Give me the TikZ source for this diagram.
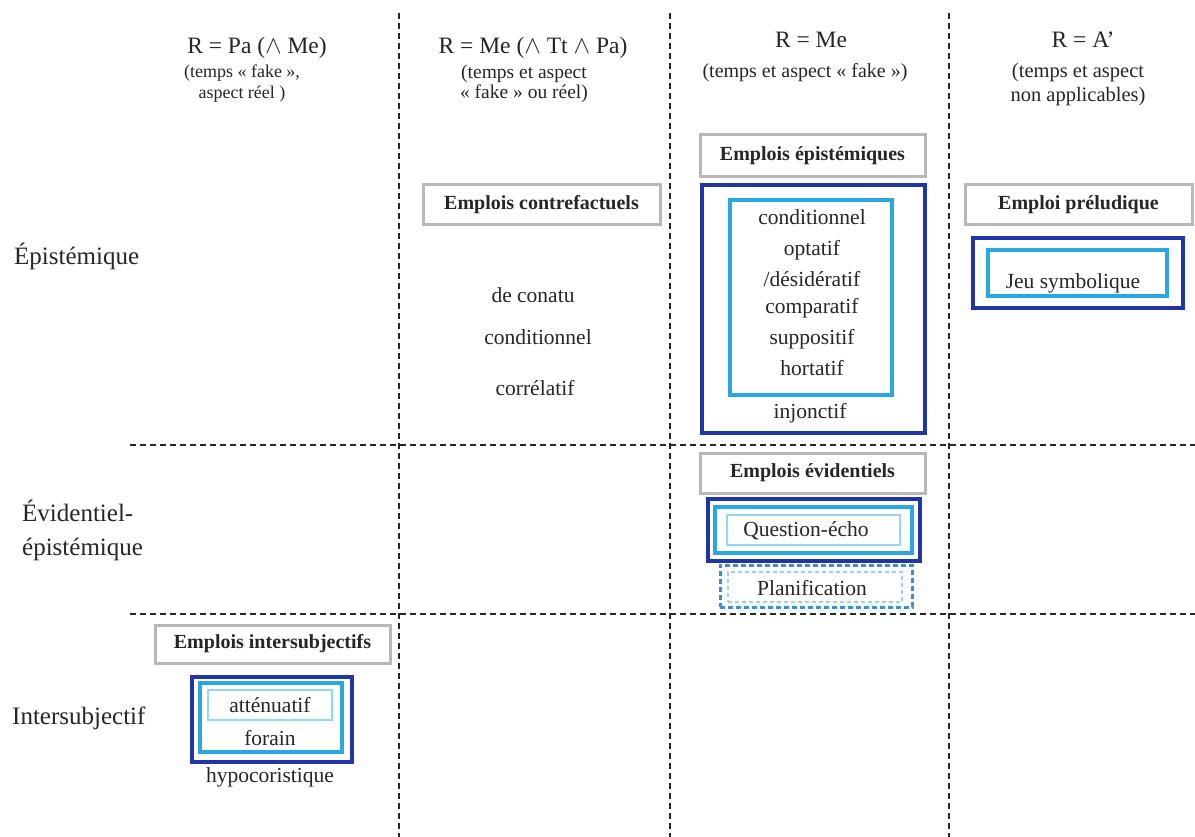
\documentclass[tikz,border=0pt]{standalone}
\usepackage{fontspec}
\setmainfont{Liberation Serif}
\definecolor{dblue}{HTML}{1F35A8}
\definecolor{cblue}{HTML}{2AA6E0}
\definecolor{lblue}{HTML}{92D6F2}
\definecolor{pblue}{HTML}{3A8ED6}
\definecolor{gbord}{HTML}{B8B8B8}
\definecolor{txt}{HTML}{262626}
\definecolor{gridc}{HTML}{262626}
\tikzset{
  body/.style={text=txt,inner sep=0pt,font=\fontsize{21.5}{24}\selectfont},
  rowlbl/.style={text=txt,inner sep=0pt,anchor=west,align=left,font=\fontsize{25}{34}\selectfont},
  head/.style={text=txt,inner sep=0pt,font=\fontsize{23.5}{26}\selectfont},
  sub/.style={text=txt,inner sep=0pt,align=center},
  graybox/.style={draw=gbord,line width=3pt,fill=white,inner sep=0pt,text=txt,font=\fontsize{20}{24}\selectfont\bfseries},
  darkbox/.style={draw=dblue,line width=4pt,inner sep=0pt},
  cyanbox/.style={draw=cblue,line width=3.2pt,inner sep=0pt},
  lightbox/.style={draw=lblue,line width=2pt,inner sep=0pt},
  gridline/.style={draw=gridc,line width=1.8pt,dash pattern=on 6pt off 4pt},
}
\begin{document}
\begin{tikzpicture}[x=1pt,y=-1pt]
\useasboundingbox[fill=white] (0,0) rectangle (1195,837);
% grid
\draw[gridline] (399,13) -- (399,837);
\draw[gridline] (670,13) -- (670,837);
\draw[gridline] (949,13) -- (949,837);
\draw[gridline] (130,445) -- (1195,445);
\draw[gridline] (130,614) -- (1195,614);
% column headers
\node[head] (h1) at (257,48) {R = Pa (\(\wedge\) Me)};
\node[sub,font=\fontsize{18}{21}\selectfont] (s1) at (242,84) {(temps « fake »,\\aspect réel )};
\node[head] (h2) at (533,48) {R = Me (\(\wedge\) Tt \(\wedge\) Pa)};
\node[sub,font=\fontsize{19.5}{20}\selectfont] (s2) at (524,84) {(temps et aspect\\« fake » ou réel)};
\node[head] (h3) at (811,40) {R = Me};
\node[sub,font=\fontsize{20}{21}\selectfont] (s3) at (805,73) {(temps et aspect « fake »)};
\node[head] (h4) at (1083,40) {R = A’};
\node[sub,font=\fontsize{20.5}{24}\selectfont] (s4) at (1078,85) {(temps et aspect\\non applicables)};
% row labels
\node[rowlbl] (r1) at (14,256) {Épistémique};
\node[rowlbl] (r2) at (22,530) {Évidentiel-\\épistémique};
\node[rowlbl] (r3) at (12,718) {Intersubjectif};
% gray label boxes
\node[graybox,minimum width=225pt,minimum height=42pt] (gEpi) at (812.5,156) {Emplois épistémiques};
\node[graybox,minimum width=237pt,minimum height=40pt] (gContre) at (541.5,205) {Emplois contrefactuels};
\node[graybox,minimum width=227pt,minimum height=40pt] (gPrel) at (1078.5,205) {Emploi préludique};
\node[graybox,minimum width=225pt,minimum height=40pt] (gEvi) at (812.5,473) {Emplois évidentiels};
\node[graybox,minimum width=235pt,minimum height=38pt] (gInter) at (272.5,644) {Emplois intersubjectifs};
% contrefactuels
\node[body] (c1) at (533,295) {de conatu};
\node[body] (c2) at (538,337) {conditionnel};
\node[body] (c3) at (535,388) {corrélatif};
% epistemiques
\node[darkbox,minimum width=223pt,minimum height=248pt] (eOut) at (813.5,309) {};
\node[cyanbox,minimum width=162pt,minimum height=195pt] (eIn) at (811,297.5) {};
\node[body] (e1) at (812,217) {conditionnel};
\node[body] (e2) at (812,250) {optatif};
\node[body] (e3) at (812,279) {/désidératif};
\node[body] (e4) at (812,308) {comparatif};
\node[body] (e5) at (812,339) {suppositif};
\node[body] (e6) at (812,368) {hortatif};
\node[body] (e7) at (810,413) {injonctif};
% preludique
\node[darkbox,minimum width=210pt,minimum height=70pt] (pOut) at (1078,273) {};
\node[cyanbox,minimum width=179pt,minimum height=46pt] (pIn) at (1077.5,273) {};
\node[body] (p1) at (1073,283) {Jeu symbolique};
% evidentiels
\node[darkbox,minimum width=212pt,minimum height=62pt] (vOut) at (814,530) {};
\node[cyanbox,minimum width=197pt,minimum height=46pt] (vMid) at (813.5,530) {};
\node[lightbox,minimum width=173pt,minimum height=30pt] (vIn) at (813.5,530) {};
\node[body] (v1) at (806,531) {Question-écho};
\node[draw=pblue,line width=3pt,dash pattern=on 5pt off 3pt,inner sep=0pt,minimum width=192pt,minimum height=42pt] (qOut) at (816,586) {};
\node[draw=lblue,line width=2pt,dash pattern=on 4pt off 3pt,inner sep=0pt,minimum width=174pt,minimum height=30pt] (qIn) at (815,587) {};
\node[body] (q1) at (812,588) {Planification};
% intersubjectif
\node[darkbox,minimum width=160pt,minimum height=85pt] (iOut) at (272,719.5) {};
\node[cyanbox,minimum width=142pt,minimum height=69pt] (iMid) at (271,717.5) {};
\node[lightbox,minimum width=124pt,minimum height=30pt] (iIn) at (270,705) {};
\node[body] (i1) at (270,705) {atténuatif};
\node[body] (i2) at (270,738) {forain};
\node[body] (i3) at (270,777) {hypocoristique};
\end{tikzpicture}
\end{document}
